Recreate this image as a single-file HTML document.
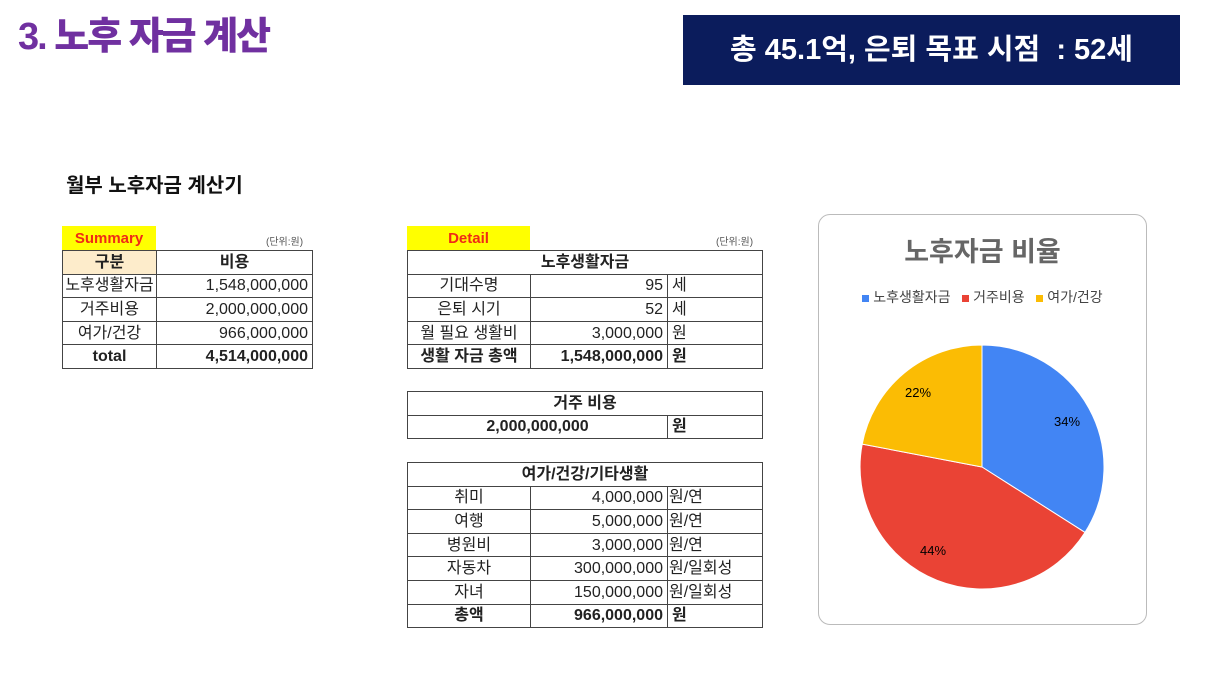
<!DOCTYPE html>
<html><head><meta charset="utf-8"><style>
*{margin:0;padding:0;box-sizing:border-box}
body{width:1216px;height:684px;background:#fff;position:relative;overflow:hidden;font-family:"Liberation Sans","Noto Sans CJK KR",sans-serif;color:#222}
.a{position:absolute}
table{position:absolute;border-collapse:collapse;table-layout:fixed;font-size:16px}
td{border:1px solid #444;height:23.6px;padding:1px 4px 0;white-space:nowrap;line-height:20px;overflow:hidden}
.c{text-align:center}.r{text-align:right}.b{font-weight:bold}
.unit{font-size:10px;color:#555}
.tag{background:#ffff00;color:#f02a16;font-weight:bold;font-size:15px;text-align:center;line-height:26px}
</style></head><body>
<div class="a" style="left:18px;top:12px;font-size:38px;font-weight:900;color:#7030a0;letter-spacing:-2px;line-height:50px">3. 노후 자금 계산</div>
<div class="a" style="left:683px;top:15px;width:497px;height:70px;background:#0b1c5c;color:#fff;font-size:29px;font-weight:bold;line-height:70px;text-align:center">총 45.1억, 은퇴 목표 시점 &nbsp;: 52세</div>
<div class="a" style="left:66px;top:169px;font-size:20px;font-weight:bold;color:#111">월부 노후자금 계산기</div>

<div class="a tag" style="left:62px;top:226px;width:94px;height:25px">Summary</div>
<div class="a unit" style="left:266px;top:233px">(단위:원)</div>
<table style="left:62px;top:250px;width:250px">
<col style="width:94px"><col style="width:156px">
<tr><td class="c b" style="background:#fdeccb">구분</td><td class="c b">비용</td></tr>
<tr><td class="c" style="padding:1px 0 0">노후생활자금</td><td class="r">1,548,000,000</td></tr>
<tr><td class="c">거주비용</td><td class="r">2,000,000,000</td></tr>
<tr><td class="c">여가/건강</td><td class="r">966,000,000</td></tr>
<tr><td class="c b">total</td><td class="r b">4,514,000,000</td></tr>
</table>

<div class="a tag" style="left:407px;top:226px;width:123px;height:25px">Detail</div>
<div class="a unit" style="left:716px;top:233px">(단위:원)</div>
<table style="left:407px;top:250px;width:355px">
<col style="width:123px"><col style="width:137px"><col style="width:95px">
<tr><td colspan="3" class="c b">노후생활자금</td></tr>
<tr><td class="c">기대수명</td><td class="r">95</td><td>세</td></tr>
<tr><td class="c">은퇴 시기</td><td class="r">52</td><td>세</td></tr>
<tr><td class="c">월 필요 생활비</td><td class="r">3,000,000</td><td>원</td></tr>
<tr><td class="c b">생활 자금 총액</td><td class="r b">1,548,000,000</td><td class="b">원</td></tr>
</table>
<table style="left:407px;top:391px;width:355px">
<col style="width:260px"><col style="width:95px">
<tr><td colspan="2" class="c b">거주 비용</td></tr>
<tr><td class="c b">2,000,000,000</td><td class="b">원</td></tr>
</table>
<table style="left:407px;top:462px;width:355px">
<col style="width:123px"><col style="width:137px"><col style="width:95px">
<tr><td colspan="3" class="c b">여가/건강/기타생활</td></tr>
<tr><td class="c">취미</td><td class="r">4,000,000</td><td style="padding:1px 1px 0">원/연</td></tr>
<tr><td class="c">여행</td><td class="r">5,000,000</td><td style="padding:1px 1px 0">원/연</td></tr>
<tr><td class="c">병원비</td><td class="r">3,000,000</td><td style="padding:1px 1px 0">원/연</td></tr>
<tr><td class="c">자동차</td><td class="r">300,000,000</td><td style="padding:1px 1px 0">원/일회성</td></tr>
<tr><td class="c">자녀</td><td class="r">150,000,000</td><td style="padding:1px 1px 0">원/일회성</td></tr>
<tr><td class="c b">총액</td><td class="r b">966,000,000</td><td class="b">원</td></tr>
</table>

<div class="a" style="left:818px;top:214px;width:329px;height:411px;border:1px solid #bbb;border-radius:12px"></div>
<div class="a" style="left:818px;top:230px;width:329px;text-align:center;font-size:27px;font-weight:bold;color:#666">노후자금 비율</div>
<div class="a" style="left:818px;top:287px;width:329px;text-align:center;font-size:14px;color:#444">
<span style="display:inline-block;width:7px;height:7px;background:#4285f4"></span> 노후생활자금 &nbsp; <span style="display:inline-block;width:7px;height:7px;background:#ea4335"></span> 거주비용 &nbsp; <span style="display:inline-block;width:7px;height:7px;background:#fbbc04"></span> 여가/건강</div>
<svg class="a" style="left:0;top:0" width="1216" height="684">
<path d="M982,467 L982,345 A122,122 0 0 1 1085,532.4 Z" fill="#4285f4" stroke="#fff" stroke-width="1"/>
<path d="M982,467 L1085,532.4 A122,122 0 0 1 862.2,444.1 Z" fill="#ea4335" stroke="#fff" stroke-width="1"/>
<path d="M982,467 L862.2,444.1 A122,122 0 0 1 982,345 Z" fill="#fbbc04" stroke="#fff" stroke-width="1"/>
<text x="1067" y="426" font-size="13" text-anchor="middle" font-family="Liberation Sans">34%</text>
<text x="933" y="555" font-size="13" text-anchor="middle" font-family="Liberation Sans">44%</text>
<text x="918" y="397" font-size="13" text-anchor="middle" font-family="Liberation Sans">22%</text>
</svg>
</body></html>
